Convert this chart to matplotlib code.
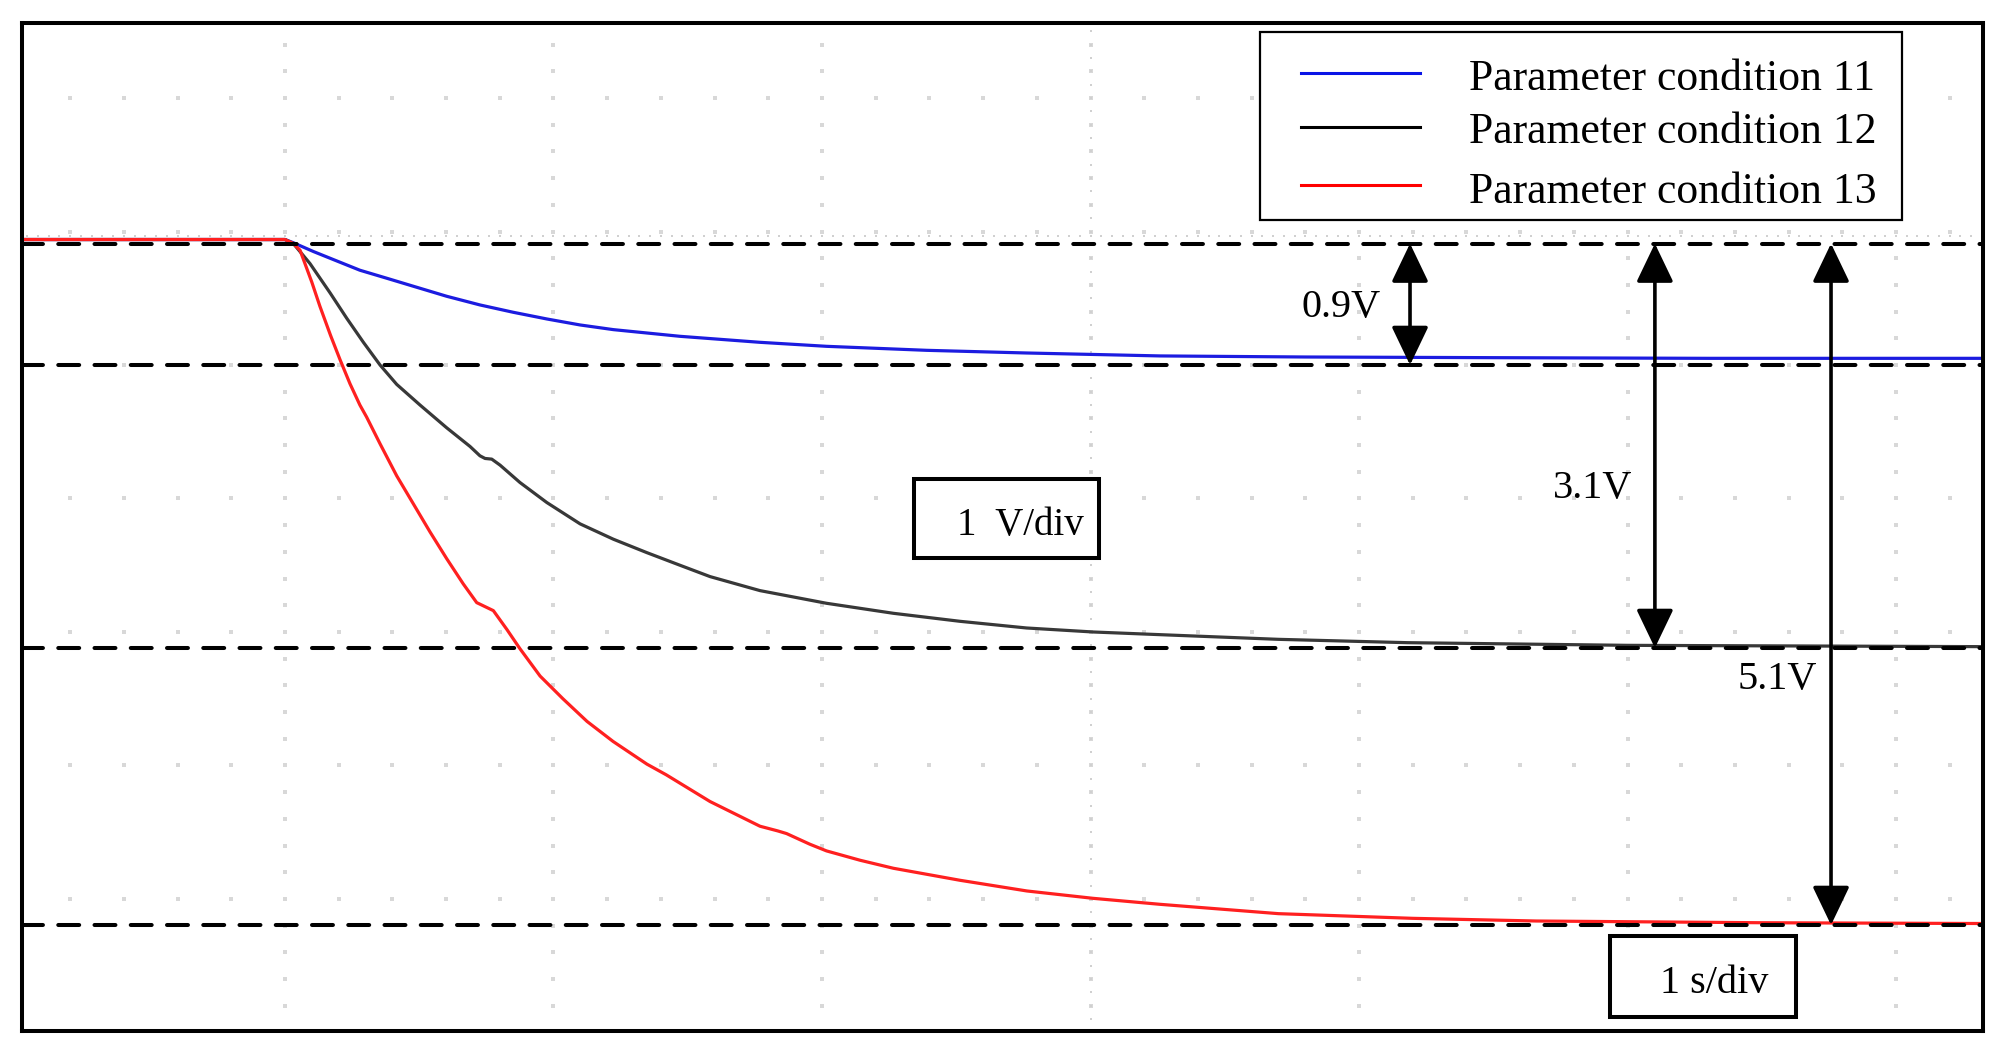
import numpy as np
import matplotlib.pyplot as plt
from matplotlib.patches import Rectangle, ArrowStyle

plt.rcParams['font.family'] = ['Liberation Serif', 'DejaVu Serif']

# time axis in s (1 s/div), voltage in V (1 V/div)
t_11 = [-1.0, 0.0, 0.031, 0.106, 0.180, 0.279, 0.379, 0.478, 0.602, 0.726,
        0.850, 0.975, 1.099, 1.223, 1.347, 1.471, 1.769, 2.017, 2.39, 2.762,
        3.259, 3.80, 4.50, 5.30, 6.35]
v_11 = [5.94, 5.94, 5.916, 5.85, 5.79, 5.71, 5.65, 5.59, 5.515, 5.45,
        5.395, 5.345, 5.30, 5.265, 5.24, 5.215, 5.17, 5.14, 5.11, 5.09,
        5.068, 5.06, 5.055, 5.05, 5.05]

t_12 = [-1.0, 0.0, 0.031, 0.093, 0.168, 0.230, 0.292, 0.354, 0.416, 0.503,
        0.602, 0.689, 0.726, 0.745, 0.770, 0.801, 0.875, 0.975, 1.099, 1.223,
        1.347, 1.471, 1.583, 1.769, 2.017, 2.266, 2.514, 2.762, 3.01, 3.259,
        3.70, 4.18, 5.00, 6.35]
v_12 = [5.94, 5.94, 5.91, 5.76, 5.54, 5.35, 5.17, 5.00, 4.855, 4.70,
        4.53, 4.39, 4.32, 4.30, 4.295, 4.25, 4.12, 3.97, 3.81, 3.695,
        3.595, 3.50, 3.415, 3.31, 3.215, 3.14, 3.08, 3.03, 3.00, 2.98,
        2.945, 2.92, 2.90, 2.89]

t_13 = [-1.0, 0.0, 0.031, 0.056, 0.10, 0.130, 0.170, 0.205, 0.242, 0.279,
        0.304, 0.354, 0.416, 0.478, 0.540, 0.602, 0.664, 0.714, 0.745, 0.776,
        0.826, 0.875, 0.950, 1.035, 1.125, 1.222, 1.348, 1.420, 1.583, 1.769,
        1.835, 1.868, 1.955, 2.017, 2.142, 2.266, 2.514, 2.763, 3.009, 3.259,
        3.70, 4.20, 4.66, 5.50, 6.35]
v_13 = [5.94, 5.94, 5.91, 5.86, 5.62, 5.44, 5.22, 5.04, 4.86, 4.70,
        4.61, 4.41, 4.17, 3.96, 3.75, 3.55, 3.36, 3.22, 3.19, 3.16,
        3.02, 2.875, 2.67, 2.50, 2.33, 2.18, 2.01, 1.93, 1.73, 1.545,
        1.51, 1.49, 1.41, 1.36, 1.29, 1.23, 1.14, 1.06, 1.005, 0.96,
        0.89, 0.855, 0.835, 0.822, 0.816]

labels = ['Parameter condition 11', 'Parameter condition 12', 'Parameter condition 13']
colors = ['#1c1ce0', '#383838', '#ff2020']
legend_colors = ['#0a14e6', '#000000', '#ff0000']

# dashed reference levels and the measured drops
levels = [5.91, 5.00, 2.88, 0.805]
drops = ['0.9V', '3.1V', '5.1V']
drop_x = [4.190, 5.102, 5.758]
drop_label_pos = [(3.933, 5.36), (4.872, 4.004), (5.557, 2.573)]

fig = plt.figure(figsize=(20.06, 10.5), dpi=100)
ax = fig.add_axes([22 / 2006, 19 / 1050, 1961 / 2006, 1008 / 1050])
ax.set_xlim(-0.9795, 6.324)
ax.set_ylim(0.011, 7.562)
ax.set_xticks([])
ax.set_yticks([])
for s in ax.spines.values():
    s.set_linewidth(2.9)
    s.set_color('black')

# scope graticule (dots)
gx, gy = [], []
for c in range(0, 7):
    for v in np.arange(0.2, 7.5, 0.2):
        gx.append(c); gy.append(v)
for r in range(1, 8):
    for t in np.arange(-0.8, 6.3, 0.2):
        gx.append(t); gy.append(r)
ax.scatter(gx, gy, s=5, marker='s', color='#d8d8d8', lw=0, zorder=0)
# centre lines, denser dots
cx = np.arange(-0.96, 6.32, 0.04)
ax.scatter(cx, np.full(len(cx), 5.97), s=3, marker='s', color='#d0d0d0', lw=0, zorder=0)
cy = np.arange(0.1, 7.56, 0.1)
ax.scatter(np.full(len(cy), 3.0), cy, s=3, marker='s', color='#d0d0d0', lw=0, zorder=0)

for t, v, c in zip([t_11, t_12, t_13], [v_11, v_12, v_13], colors):
    ax.plot(t, v, color=c, lw=2.3, zorder=2, solid_joinstyle='round')

for y in levels:
    ax.axhline(y, color='black', lw=2.9, dashes=(5.2, 3.8), dash_capstyle='round', zorder=3)

style = ArrowStyle('<|-|>', head_length=2.4, head_width=1.15)
for x, lvl in zip(drop_x, levels[1:]):
    ax.annotate('', xy=(x, levels[0]), xytext=(x, lvl),
                arrowprops=dict(arrowstyle=style, mutation_scale=10, lw=2.6,
                                color='black', shrinkA=0, shrinkB=0), zorder=4)
for txt, (x, y) in zip(drops, drop_label_pos):
    ax.text(x, y, txt, fontsize=29, ha='center', va='baseline', zorder=5)

# scale boxes
ax.add_patch(Rectangle((2.343, 3.554), 0.689, 0.592, facecolor='white',
                       edgecolor='black', lw=2.9, zorder=4))
ax.text(2.503, 3.727, '1  V/div', fontsize=28, ha='left', va='baseline', zorder=5)
ax.add_patch(Rectangle((4.935, 0.116), 0.693, 0.607, facecolor='white',
                       edgecolor='black', lw=2.9, zorder=4))
ax.text(5.121, 0.296, '1 s/div', fontsize=29, ha='left', va='baseline', zorder=5)

# legend box (axes fraction)
ax.add_patch(Rectangle((0.6313, 0.8046), 0.3274, 0.1865, transform=ax.transAxes,
                       facecolor='white', edgecolor='black', lw=1.6, zorder=6))
line_y = [0.9504, 0.8968, 0.8393]
text_y = [0.9335, 0.8810, 0.8214]
for lab, c, ly, ty in zip(labels, legend_colors, line_y, text_y):
    ax.plot([0.6522, 0.7129], [ly, ly], color=c, lw=2.2, transform=ax.transAxes, zorder=7)
    ax.text(0.7379, ty, lab, fontsize=31.5, ha='left', va='baseline',
            transform=ax.transAxes, zorder=7)

fig.savefig('out.png', dpi=100)
